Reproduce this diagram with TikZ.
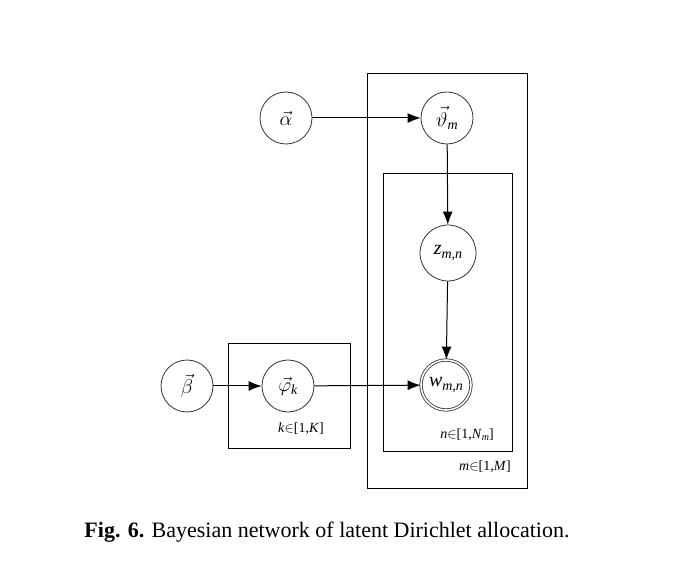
\documentclass[tikz,border=0pt]{standalone}
\usepackage{fontspec}
\usepackage{fix-cm}
\setmainfont{Liberation Serif}
\usetikzlibrary{arrows.meta}
\newcommand{\mysb}[1]{\raisebox{-0.35ex}{\fontsize{14}{16}\selectfont\textit{#1}}}
\begin{document}
\begin{tikzpicture}[x=1pt,y=-1pt,
  var/.style={circle,draw=black!80,line width=0.8pt,minimum size=52pt,inner sep=0pt,font=\fontsize{20}{22}\selectfont},
  obs/.style={var,double,double distance=1.6pt},
  plate/.style={draw=black,line width=0.9pt},
  edge/.style={draw=black,line width=1pt,-{Latex[length=13pt,width=10pt]}},
  platelabel/.style={font=\fontsize{14}{16}\selectfont,inner sep=0pt}]
\useasboundingbox (0,0) rectangle (675,585);
% plates
\draw[plate] (367,73) rectangle (527,488);
\draw[plate] (383,173) rectangle (512,451);
\draw[plate] (228,343) rectangle (350,448);
% nodes
\node[var] (alpha) at (286,118) {$\vec{\alpha}$};
\node[var] (theta) at (447,118) {$\vec{\vartheta}$\mysb{m}};
\node[var,minimum size=56pt] (z) at (448,253) {\textit{z}\mysb{m,n}};
\node[obs,minimum size=50pt] (w) at (446,385) {\textit{w}\mysb{m,n}};
\node[var] (beta) at (187,386) {$\vec{\beta}$};
\node[var] (phi) at (288,386) {$\vec{\varphi}$\mysb{k}};
% labels
\node[platelabel] (lk) at (301,429) {\textit{k}$\in$[1,\textit{K}]};
\node[platelabel] (ln) at (467,435) {\textit{n}$\in$[1,\textit{N}{\fontsize{10}{12}\selectfont\raisebox{-0.3ex}{\textit{m}}}]};
\node[platelabel] (lm) at (485,467) {\textit{m}$\in$[1,\textit{M}]};
% edges
\draw[edge] (alpha) -- (theta);
\draw[edge] (theta) -- (z);
\draw[edge] (z) -- (w);
\draw[edge] (beta) -- (phi);
\draw[edge] (phi) -- (w);
% caption
\node[font=\fontsize{22}{26}\selectfont,inner sep=0pt] (cap) at (327,532) {\textbf{Fig. 6.} Bayesian network of latent Dirichlet allocation.};
\end{tikzpicture}
\end{document}
